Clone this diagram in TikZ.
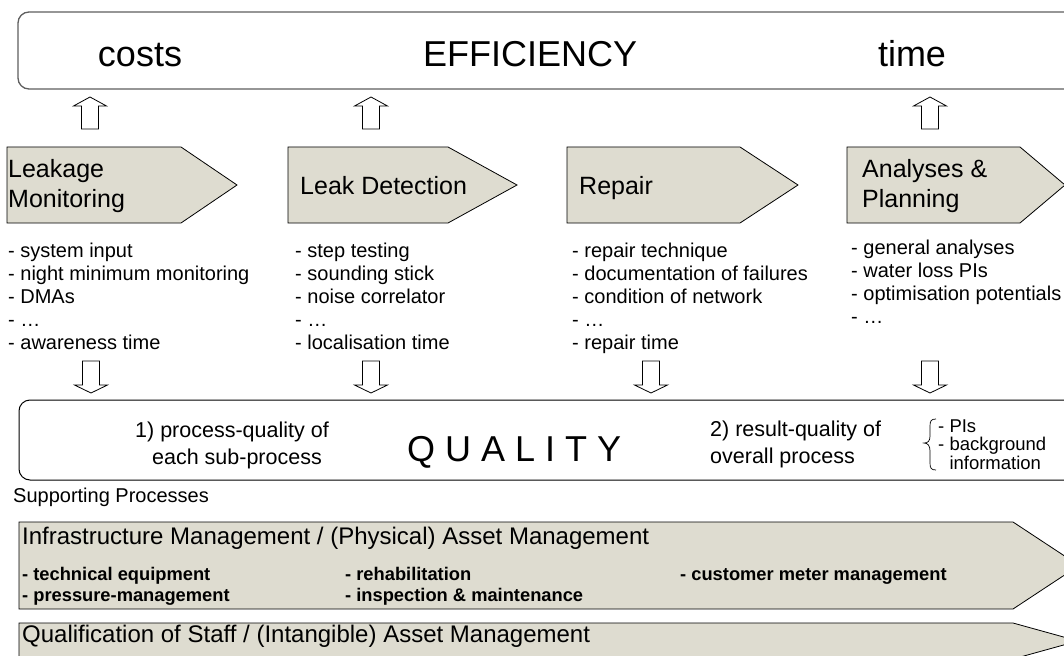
\documentclass[tikz,border=0pt]{standalone}
\usepackage{fontspec}
\setmainfont{Liberation Sans}
\definecolor{chevfill}{RGB}{222,220,208}
\definecolor{boxline}{RGB}{95,95,95}
\tikzset{
  txt/.style={inner sep=0pt, anchor=base west},
  bigtxt/.style={inner sep=0pt, anchor=base, font=\fontsize{36}{43}\selectfont},
  headtxt/.style={txt, font=\fontsize{25}{30}\selectfont},
  itemtxt/.style={txt, font=\fontsize{20}{23}\selectfont},
  midtxt/.style={inner sep=0pt, anchor=base, font=\fontsize{21.5}{27}\selectfont},
  smalltxt/.style={txt, font=\fontsize{18.5}{18.5}\selectfont},
  boldtxt/.style={txt, font=\bfseries\fontsize{18.3}{21}\selectfont},
  chev/.style={draw=black, fill=chevfill, line width=0.8pt, line join=miter},
  effbox/.style={draw=boxline, line width=1.3pt, fill=white, rounded corners=11pt},
  qualbox/.style={draw=black, line width=1pt, fill=white, rounded corners=11pt},
  blockarrow/.style={draw=black, fill=white, line width=0.8pt},
  uparrow/.pic={\draw[blockarrow] (-8.5,16) -- (-8.5,-7) -- (-16.5,-7) -- (0,-16) -- (16.5,-7) -- (8.5,-7) -- (8.5,16) -- cycle;},
  downarrow/.pic={\draw[blockarrow] (-8.5,-16) -- (-8.5,8) -- (-16.5,8) -- (0,16) -- (16.5,8) -- (8.5,8) -- (8.5,-16) -- cycle;},
}
\begin{document}
\begin{tikzpicture}[x=1pt,y=-1pt]
\useasboundingbox (0,0) rectangle (1064,655);
\clip (0,0) rectangle (1064,655);
\fill[white] (0,0) rectangle (1064,655);

% EFFICIENCY box
\draw[effbox] (18,12) rectangle (1095,89);
\node[bigtxt] (costs) at (140,67) {costs};
\node[bigtxt] (eff) at (530,67) {EFFICIENCY};
\node[bigtxt] (time) at (912,67) {time};

% up arrows
\pic at (90,113) {uparrow};
\pic at (371,113) {uparrow};
\pic at (930,113) {uparrow};

% chevrons
\draw[chev] (7,147) -- (181,147) -- (237,185) -- (181,223) -- (7,223) -- cycle;
\draw[chev] (288,147) -- (448,147) -- (517,185) -- (448,223) -- (288,223) -- cycle;
\draw[chev] (567,147) -- (740,147) -- (798,185) -- (740,223) -- (567,223) -- cycle;
\draw[chev] (847,147) -- (1020,147) -- (1065,185) -- (1020,223) -- (847,223) -- cycle;

\node[headtxt] (lm1) at (8,177) {Leakage};
\node[headtxt] (lm2) at (8,207) {Monitoring};
\node[headtxt] (ld) at (300,194) {Leak Detection};
\node[headtxt] (rp) at (579,194) {Repair};
\node[headtxt] (ap1) at (862,177) {Analyses \&};
\node[headtxt] (ap2) at (862,207) {Planning};

% item lists
\foreach \t [count=\i] in {- system input, - night minimum monitoring, - DMAs, - …, - awareness time}
  \node[itemtxt] (lmi\i) at (8,{257+23.2*(\i-1)}) {\t};
\foreach \t [count=\i] in {- step testing, - sounding stick, - noise correlator, - …, - localisation time}
  \node[itemtxt] (ldi\i) at (295,{257+23.2*(\i-1)}) {\t};
\foreach \t [count=\i] in {- repair technique, - documentation of failures, - condition of network, - …, - repair time}
  \node[itemtxt] (rpi\i) at (572,{257+23.2*(\i-1)}) {\t};
\foreach \t [count=\i] in {- general analyses, - water loss PIs, - optimisation potentials, - …}
  \node[itemtxt] (api\i) at (851,{254+23.2*(\i-1)}) {\t};

% down arrows
\pic at (91,377) {downarrow};
\pic at (371,377) {downarrow};
\pic at (651,377) {downarrow};
\pic at (930,377) {downarrow};

% QUALITY box
\draw[qualbox] (19,400) rectangle (1095,480);
\node[midtxt] (pq1) at (232,437) {1) process-quality of};
\node[midtxt] (pq2) at (237,464) {each sub-process};
\node[txt, font=\fontsize{36}{43}\selectfont] (qual) at (407,461) {Q U A L I T Y};
\node[txt, font=\fontsize{21.5}{27}\selectfont] (rq1) at (710,436) {2) result-quality of};
\node[txt, font=\fontsize{21.5}{27}\selectfont] (rq2) at (710,463) {overall process};
\draw[line width=0.7pt] (936,419) .. controls (931,419) and (930,421) .. (930,426) -- (930,436)
  .. controls (930,441) and (928,443) .. (924,443) .. controls (928,443) and (930,446) .. (930,451)
  -- (930,463) .. controls (930,468) and (931,470) .. (936,470);
\node[smalltxt] (pi1) at (938,432) {- PIs};
\node[smalltxt] (pi2) at (938,450.5) {- background};
\node[smalltxt] (pi3) at (938,469) {\phantom{- }information};

% supporting processes
\node[itemtxt] (sp) at (13,502) {Supporting Processes};

\draw[chev] (19,522) -- (1013,522) -- (1079,565.5) -- (1013,609) -- (19,609) -- cycle;
\node[txt, font=\fontsize{24}{29}\selectfont] (infra) at (22,544) {Infrastructure Management / (Physical) Asset Management};
\node[boldtxt] (b1) at (22,580) {- technical equipment};
\node[boldtxt] (b2) at (22,601) {- pressure-management};
\node[boldtxt] (b3) at (345,580) {- rehabilitation};
\node[boldtxt] (b4) at (345,601) {- inspection \& maintenance};
\node[boldtxt] (b5) at (680,580) {- customer meter management};

\draw[chev] (19,623) -- (1013,623) -- (1078,641) -- (1013,659) -- (19,659) -- cycle;
\node[txt, font=\fontsize{24}{29}\selectfont] (qual2) at (22,642) {Qualification of Staff / (Intangible) Asset Management};
\end{tikzpicture}
\end{document}
